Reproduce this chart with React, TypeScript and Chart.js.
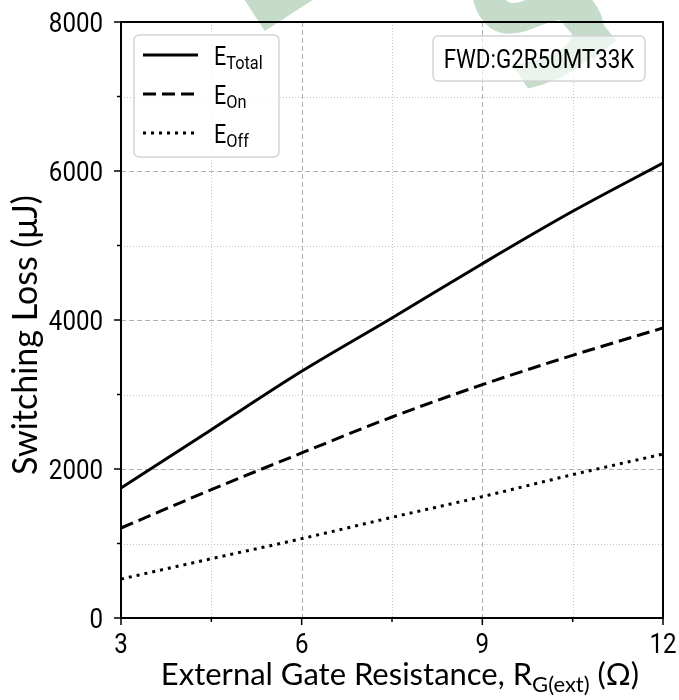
import React, { useEffect, useRef } from "react";
import { Chart, registerables } from "chart.js";

Chart.register(...registerables);

// ---- data ----
const rgExt = [3, 4.5, 6, 7.5, 9, 10.5, 12];
const eTotal = [1745, 2528, 3311, 4027, 4756, 5459, 6107];
const eOn = [1208, 1723, 2215, 2698, 3132, 3526, 3893];
const eOff = [523, 796, 1065, 1351, 1629, 1924, 2201];

const xMajorTicks = [3, 6, 9, 12];
const xMinorTicks = [4.5, 7.5, 10.5];
const yMajorTicks = [0, 2000, 4000, 6000, 8000];
const yMinorTicks = [1000, 3000, 5000, 7000];

const seriesMain = ["E", "E", "E"];
const seriesSub = ["Total", "On", "Off"];
const annotationText = "FWD:G2R50MT33K";
const yTitle = "Switching Loss (\u03bcJ)";
const xTitleParts = ["External Gate Resistance, R", "G(ext)", " (\u03a9)"];
const watermarkGlyphs = ["E", "S", "I"];

const COND = "Roboto, 'Liberation Sans', sans-serif";
const COND_X = 0.86;
const TITLE_FONT = "Lato, 'Open Sans', sans-serif";

function condText(
  ctx: CanvasRenderingContext2D,
  text: string,
  x: number,
  y: number,
  size: number,
  align: CanvasTextAlign,
  baseline: CanvasTextBaseline = "alphabetic"
) {
  ctx.save();
  ctx.font = `${size}px ${COND}`;
  ctx.textAlign = align;
  ctx.textBaseline = baseline;
  ctx.translate(x, y);
  ctx.scale(COND_X, 1);
  ctx.fillText(text, 0, 0);
  ctx.restore();
}

function condWidth(ctx: CanvasRenderingContext2D, text: string, size: number) {
  ctx.save();
  ctx.font = `${size}px ${COND}`;
  const w = ctx.measureText(text).width * COND_X;
  ctx.restore();
  return w;
}

const decorPlugin = {
  id: "decor",
  beforeDraw(chart: any) {
    const ctx = chart.ctx;
    ctx.save();
    ctx.fillStyle = "#fff";
    ctx.fillRect(0, 0, chart.width, chart.height);
    // watermark
    ctx.fillStyle = "#c6dccb";
    ctx.textBaseline = "alphabetic";
    const spots = [
      { x: 254, y: 38, a: -33, s: 140 },
      { x: 520, y: 102, a: -33, s: 180 },
      { x: 582, y: 69, a: -40, s: 160 },
    ];
    spots.forEach((p, i) => {
      ctx.save();
      ctx.translate(p.x, p.y);
      ctx.rotate((p.a * Math.PI) / 180);
      ctx.font = `bold ${p.s}px 'DejaVu Sans'`;
      ctx.fillText(watermarkGlyphs[i], 0, 0);
      ctx.restore();
    });
    ctx.restore();
  },
  beforeDatasetsDraw(chart: any) {
    const { ctx, chartArea: a, scales } = chart;
    const xs = scales.x;
    const ys = scales.y;
    ctx.save();
    ctx.beginPath();
    ctx.rect(a.left, a.top, a.right - a.left, a.bottom - a.top);
    ctx.clip();
    ctx.lineWidth = 1;
    const vline = (v: number) => {
      const px = Math.round(xs.getPixelForValue(v)) + 0.5;
      ctx.beginPath();
      ctx.moveTo(px, a.top);
      ctx.lineTo(px, a.bottom);
      ctx.stroke();
    };
    const hline = (v: number) => {
      const py = Math.round(ys.getPixelForValue(v)) + 0.5;
      ctx.beginPath();
      ctx.moveTo(a.left, py);
      ctx.lineTo(a.right, py);
      ctx.stroke();
    };
    // minor dotted
    ctx.strokeStyle = "#c4c4c4";
    ctx.setLineDash([1, 2]);
    xMinorTicks.forEach(vline);
    yMinorTicks.forEach(hline);
    // major dashed
    ctx.strokeStyle = "#b0b0b0";
    ctx.setLineDash([5, 3]);
    xMajorTicks.forEach(vline);
    yMajorTicks.forEach(hline);
    ctx.restore();
  },
  afterDatasetsDraw(chart: any) {
    const { ctx, chartArea: a, scales } = chart;
    const xs = scales.x;
    const ys = scales.y;
    ctx.save();
    ctx.setLineDash([]);
    // frame
    ctx.strokeStyle = "#000";
    ctx.lineWidth = 2;
    ctx.strokeRect(a.left, a.top, a.right - a.left, a.bottom - a.top);
    // tick marks
    ctx.lineWidth = 1.5;
    const tick = (x1: number, y1: number, x2: number, y2: number) => {
      ctx.beginPath();
      ctx.moveTo(x1, y1);
      ctx.lineTo(x2, y2);
      ctx.stroke();
    };
    ctx.fillStyle = "#000";
    xMajorTicks.forEach((v) => {
      const px = xs.getPixelForValue(v);
      tick(px, a.bottom, px, a.bottom + 7);
      condText(ctx, String(v), px, a.bottom + 35, 28, "center");
    });
    xMinorTicks.forEach((v) => {
      const px = xs.getPixelForValue(v);
      tick(px, a.bottom, px, a.bottom + 4);
    });
    yMajorTicks.forEach((v) => {
      const py = ys.getPixelForValue(v);
      tick(a.left - 7, py, a.left, py);
      condText(ctx, String(v), a.left - 18, py + 10, 28, "right");
    });
    yMinorTicks.forEach((v) => {
      const py = ys.getPixelForValue(v);
      tick(a.left - 4, py, a.left, py);
    });

    // y title
    ctx.save();
    ctx.translate(37, (a.top + a.bottom) / 2 + 15);
    ctx.rotate(-Math.PI / 2);
    ctx.font = `34px ${TITLE_FONT}`;
    ctx.textAlign = "center";
    ctx.textBaseline = "alphabetic";
    ctx.fillText(yTitle, 0, 0);
    ctx.restore();

    // legend
    const lx = a.left + 13;
    const ly = a.top + 13;
    const lw = 145;
    const lh = 122;
    ctx.beginPath();
    ctx.roundRect(lx, ly, lw, lh, 5);
    ctx.fillStyle = "rgba(255,255,255,0.8)";
    ctx.fill();
    ctx.strokeStyle = "#d4d4d4";
    ctx.lineWidth = 1.5;
    ctx.stroke();
    chart.data.datasets.forEach((ds: any, i: number) => {
      const y = ly + 20 + i * 39;
      ctx.strokeStyle = ds.borderColor;
      ctx.lineWidth = ds.borderWidth;
      ctx.setLineDash(ds.borderDash || []);
      ctx.beginPath();
      ctx.moveTo(lx + 9, y);
      ctx.lineTo(lx + 64, y);
      ctx.stroke();
      ctx.setLineDash([]);
      ctx.fillStyle = "#000";
      condText(ctx, seriesMain[i], lx + 80, y + 10, 25, "left");
      const w = condWidth(ctx, seriesMain[i], 25);
      condText(ctx, seriesSub[i], lx + 80 + w, y + 14, 19, "left");
    });

    // annotation box
    const bw = 212;
    const bh = 45;
    const bx = a.right - 18 - bw;
    const by = a.top + 14;
    ctx.beginPath();
    ctx.roundRect(bx, by, bw, bh, 5);
    ctx.fillStyle = "rgba(255,255,255,0.65)";
    ctx.fill();
    ctx.strokeStyle = "#d4d4d4";
    ctx.lineWidth = 1.5;
    ctx.stroke();
    ctx.fillStyle = "#000";
    condText(ctx, annotationText, bx + bw / 2, by + bh / 2 + 9, 26, "center");

    // x title with subscript
    const mainFont = `31px ${TITLE_FONT}`;
    const subFont = `22px ${TITLE_FONT}`;
    ctx.textAlign = "left";
    ctx.textBaseline = "alphabetic";
    ctx.font = mainFont;
    const w0 = ctx.measureText(xTitleParts[0]).width;
    const w2 = ctx.measureText(xTitleParts[2]).width;
    ctx.font = subFont;
    const w1 = ctx.measureText(xTitleParts[1]).width;
    const total = w0 + w1 + w2;
    let cx = (a.left + a.right) / 2 + 8 - total / 2;
    const baseY = 685;
    ctx.font = mainFont;
    ctx.fillText(xTitleParts[0], cx, baseY);
    cx += w0;
    ctx.font = subFont;
    ctx.fillText(xTitleParts[1], cx, baseY + 7);
    cx += w1;
    ctx.font = mainFont;
    ctx.fillText(xTitleParts[2], cx, baseY);
    ctx.restore();
  },
};

export default function App() {
  const ref = useRef<HTMLCanvasElement | null>(null);
  useEffect(() => {
    if (!ref.current) return;
    const mk = (arr: number[]) => rgExt.map((x, i) => ({ x, y: arr[i] }));
    const chart = new Chart(ref.current, {
      type: "line",
      data: {
        datasets: [
          { label: "E_Total", data: mk(eTotal), borderColor: "#000", borderWidth: 3, borderDash: [], pointRadius: 0, cubicInterpolationMode: "monotone" },
          { label: "E_On", data: mk(eOn), borderColor: "#000", borderWidth: 3, borderDash: [13, 6], pointRadius: 0, cubicInterpolationMode: "monotone" },
          { label: "E_Off", data: mk(eOff), borderColor: "#000", borderWidth: 3, borderDash: [3, 5], pointRadius: 0, cubicInterpolationMode: "monotone" },
        ] as any,
      },
      options: {
        animation: false,
        responsive: false,
        maintainAspectRatio: false,
        layout: { padding: { left: 0, right: 16, top: 22, bottom: 0 } },
        plugins: { legend: { display: false }, tooltip: { enabled: false } },
        scales: {
          x: {
            type: "linear",
            min: 3,
            max: 12,
            grid: { display: false },
            border: { display: false },
            ticks: { display: false },
            afterFit: (s: any) => {
              s.height = 82;
            },
          },
          y: {
            type: "linear",
            min: 0,
            max: 8000,
            grid: { display: false },
            border: { display: false },
            ticks: { display: false },
            afterFit: (s: any) => {
              s.width = 121;
            },
          },
        },
      },
      plugins: [decorPlugin],
    });
    return () => chart.destroy();
  }, []);
  return (
    <div style={{ position: "absolute", left: 0, top: 0, width: 679, height: 700, background: "#fff" }}>
      <canvas ref={ref} width={679} height={700} style={{ display: "block" }} />
    </div>
  );
}
